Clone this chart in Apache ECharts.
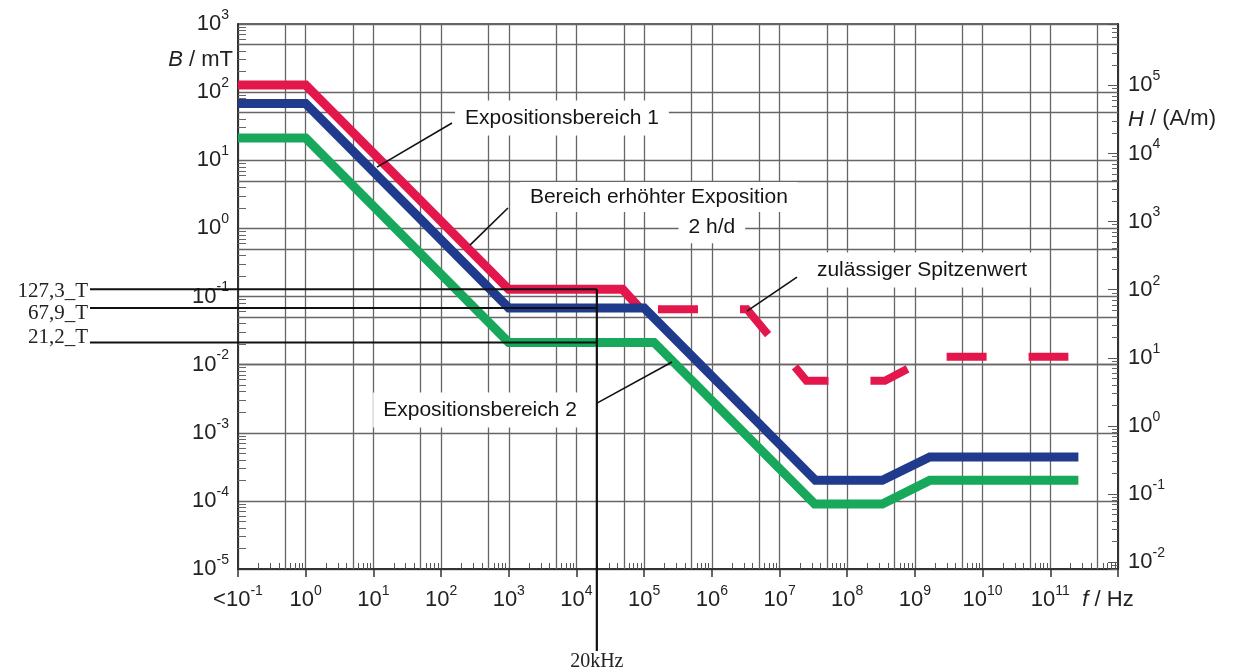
<!DOCTYPE html>
<html><head><meta charset="utf-8">
<script src="https://cdn.jsdelivr.net/npm/echarts@6/dist/echarts.min.js"></script>
<style>html,body{margin:0;padding:0;background:#fff}#c{width:1237px;height:672px}</style>
</head><body><div id="c"></div>
<script>
// ---------- data (f in Hz, B in mT) ----------
const xRange = [0.1, 1e12];
const yRange = [1e-5, 1e3];
const redF   = [0.1, 1, 1000, 4.8e4, 8.6e4];
const redB   = [127.3, 127.3, 0.1273, 0.1273, 0.0679];
const blueF  = [0.1, 1, 1000, 1e5, 3.4e7, 3.3e8, 1.66e9, 2.6e11];
const blueB  = [67.9, 67.9, 0.0679, 0.0679, 2.0e-4, 2.0e-4, 4.4e-4, 4.4e-4];
const greenF = [0.1, 1, 1000, 1.4e5, 3.3e7, 3.3e8, 1.66e9, 2.6e11];
const greenB = [21.2, 21.2, 0.0212, 0.0212, 9.0e-5, 9.0e-5, 2.0e-4, 2.0e-4];
const peakF  = [1.6e5, 3.3e6, 2.5e7, 3.6e8, 1.7e9, 1.85e11];
const peakB  = [0.065, 0.065, 5.8e-3, 5.8e-3, 0.013, 0.013];
const refLevels = [0.1273, 0.0679, 0.0212];
const refLabels = ['127,3_T', '67,9_T', '21,2_T'];
const refFreq = 2e4;
const refFreqLabel = '20kHz';
const muMilli = 4 * Math.PI * 1e-7 * 1e3; // mT per (A/m)
const annoTexts = ['Expositionsbereich 1', 'Bereich erhöhter Exposition', '2 h/d', 'Expositionsbereich 2', 'zulässiger Spitzenwert'];
const annoAt   = [[6100, 41.7], [1460, 2.88], [1.0e6, 1.04], [1.43e4, 2.15e-3], [2.54e7, 0.244]];
const leaderFrom = [[11.3, 7.94], [267, 0.569], [2.58e5, 0.0109], [3.3e6, 0.0611]];
const leaderTo   = [[145, 35.2], [973, 1.99], [2.01e4, 2.72e-3], [1.81e7, 0.193]];

// ---------- styling ----------
const FONT = '"Liberation Sans", Arial, sans-serif';
const SERIF = '"Liberation Serif", "Times New Roman", serif';
const GRIDC = '#666';
const richSup = {
  s: {fontSize: 14, fontFamily: FONT, color: '#222', padding: [0, 0, 18, 0]},
  fi: {fontSize: 22, fontFamily: FONT, color: '#222', fontStyle: 'italic', padding: [5, 0, 5, 0]},
  fr: {fontSize: 22, fontFamily: FONT, color: '#222', padding: [5, 20, 5, 0]}
};
const ex = v => Math.round(Math.log10(v));
const isPow = v => Math.abs(Math.log10(v) - ex(v)) < 0.01;
const xFmt = v => { const e = ex(v); if (e === -1) return '<10{s|-1}'; if (e === 12) return '{fi|f}{fr| / Hz}'; return '10{s|' + e + '}'; };
const yFmt = v => isPow(v) ? '10{s|' + ex(v) + '}' : '';
const zip = (a, b) => a.map((v, i) => [v, b[i]]);

// extra 5x grid lines (1 and 5 per decade like the original paper grid)
const grid5 = [];
for (let e = -1; e < 12; e++) grid5.push({xAxis: 5 * Math.pow(10, e)});
for (let e = -5; e < 3; e++) grid5.push({yAxis: 5 * Math.pow(10, e)});

const baseLog = (min, max) => ({
  type: 'log', logBase: 10, min: min, max: max, splitNumber: Math.round(Math.log10(max / min)), interval: 1
});

const chart = echarts.init(document.getElementById('c'), null, {renderer: 'canvas'});
const hAxis = Object.assign(baseLog(yRange[0] / muMilli, yRange[1] / muMilli), {
  position: 'right', splitNumber: 8,
  axisLine: {show: true, lineStyle: {color: '#333', width: 2}},
  axisTick: {show: true, inside: true, length: 10, lineStyle: {color: '#555', width: 1}},
  minorTick: {show: true, splitNumber: 9, length: 6, lineStyle: {color: '#666', width: 1}},
  axisLabel: {formatter: yFmt, rich: richSup, margin: 10, fontSize: 22, fontFamily: FONT, color: '#222', showMinLabel: true, showMaxLabel: true, interval: 0, hideOverlap: false},
  splitLine: {show: false}
});
delete hAxis.interval;
const option = {
  animation: false,
  backgroundColor: '#fff',
  grid: {left: 238, right: 119, top: 24, bottom: 103, show: true, borderColor: '#333', borderWidth: 1.5, containLabel: false},
  xAxis: [
    Object.assign(baseLog(xRange[0], xRange[1]), {
      position: 'bottom',
      axisLine: {lineStyle: {color: '#333', width: 2}},
      axisTick: {show: false, inside: true},
      minorTick: {show: true, splitNumber: 9, length: 6, lineStyle: {color: '#555', width: 1}},
      axisLabel: {formatter: xFmt, rich: richSup, margin: 15, fontSize: 22, fontFamily: FONT, color: '#222', showMinLabel: true, showMaxLabel: true, interval: 0},
      splitLine: {show: true, lineStyle: {color: GRIDC, width: 1.3}}
    }),
    Object.assign(baseLog(xRange[0], xRange[1]), {
      position: 'bottom', offset: 0,
      axisLine: {show: false}, axisLabel: {show: false}, splitLine: {show: false},
      axisTick: {show: true, inside: false, length: 8, lineStyle: {color: '#333', width: 1.5}}
    })
  ],
  yAxis: [
    Object.assign(baseLog(yRange[0], yRange[1]), {
      position: 'left',
      axisLine: {show: true, lineStyle: {color: '#333', width: 2}},
      axisTick: {show: false, inside: true},
      minorTick: {show: true, splitNumber: 9, length: 8, lineStyle: {color: '#666', width: 1}},
      axisLabel: {formatter: yFmt, rich: richSup, margin: 9, fontSize: 22, fontFamily: FONT, color: '#222', showMinLabel: true, showMaxLabel: true, interval: 0},
      splitLine: {show: true, lineStyle: {color: GRIDC, width: 1.3}}
    }),
    hAxis
  ],
  series: [
    {type: 'line', name: 'grid', data: [], xAxisIndex: 0, yAxisIndex: 0, silent: true,
     markLine: {z: 1, silent: true, symbol: ['none', 'none'], label: {show: false}, animation: false,
       lineStyle: {color: GRIDC, width: 1.3, type: 'solid'}, emphasis: {disabled: true}, data: grid5}},
    {type: 'line', name: 'zulässiger Spitzenwert', data: zip(peakF, peakB), showSymbol: false, symbol: 'none', z: 3,
     lineStyle: {color: '#e3174c', width: 8, type: [40, 42], cap: 'butt', join: 'miter'}},
    {type: 'line', name: 'Bereich erhöhter Exposition', data: zip(redF, redB), showSymbol: false, symbol: 'none', z: 3,
     lineStyle: {color: '#e3174c', width: 9, cap: 'butt', join: 'miter'}},
    {type: 'line', name: 'Expositionsbereich 1', data: zip(blueF, blueB), showSymbol: false, symbol: 'none', z: 3,
     lineStyle: {color: '#203b8e', width: 9, cap: 'butt', join: 'miter'}},
    {type: 'line', name: 'Expositionsbereich 2', data: zip(greenF, greenB), showSymbol: false, symbol: 'none', z: 3,
     lineStyle: {color: '#17a85b', width: 9, cap: 'butt', join: 'miter'}}
  ]
};
chart.setOption(option);

// ---------- annotations positioned through the chart's own scales ----------
const P = p => chart.convertToPixel({xAxisIndex: 0, yAxisIndex: 0}, p);
const g = [];
const lineEl = (x1, y1, x2, y2, w) => ({type: 'line', z: 30, silent: true, shape: {x1, y1, x2, y2}, style: {stroke: '#111', lineWidth: w || 1.8}});
const xRef = P([refFreq, 1])[0];
const refOffsets = [2, 6, -5];
refLevels.forEach((lv, i) => {
  const y = P([1, lv])[1];
  g.push(lineEl(90, y, xRef, y, 2));
  g.push({type: 'text', z: 30, silent: true, style: {text: refLabels[i], x: 88, y: y + refOffsets[i], align: 'right', verticalAlign: 'middle', font: '21px ' + SERIF, fill: '#222'}});
});
const yTopRef = P([1, refLevels[0]])[1];
g.push(lineEl(xRef, yTopRef, xRef, 651, 2.2));
g.push({type: 'text', z: 30, silent: true, style: {text: refFreqLabel, x: xRef, y: 652, align: 'center', verticalAlign: 'top', font: '20px ' + SERIF, fill: '#222'}});

const aligns = ['center', 'left', 'center', 'right', 'left'];
const pads = [[7, 10, 7, 10], [6, 10, 3, 10], [3, 10, 8, 10], [7, 10, 7, 10], [7, 10, 7, 10]];
annoTexts.forEach((t, i) => {
  const p = P(annoAt[i]);
  g.push({type: 'text', z: 25, silent: true, style: {text: t, x: p[0], y: p[1], align: aligns[i], verticalAlign: 'middle',
    font: '21px ' + FONT, fill: '#151515', backgroundColor: '#fff', padding: pads[i]}});
});
leaderFrom.forEach((a, i) => {
  const p1 = P(a), p2 = P(leaderTo[i]);
  g.push(lineEl(p1[0], p1[1], p2[0], p2[1], 1.6));
});

// axis titles
const gridLeft = P([xRange[0], 1])[0];
const gridRight = P([xRange[1], 1])[0];
const yBName = P([1, 300])[1];
const yHName = chart.convertToPixel({yAxisIndex: 1}, Math.pow(10, 4.5));
g.push({type: 'text', z: 30, silent: true, style: {text: '{i|B} / mT', x: gridLeft - 5, y: yBName, align: 'right', verticalAlign: 'middle',
  font: '22px ' + FONT, fill: '#222', rich: {i: {fontStyle: 'italic', fontSize: 22, fontFamily: FONT, fill: '#222'}}}});
g.push({type: 'text', z: 30, silent: true, style: {text: '{i|H} / (A/m)', x: gridRight + 10, y: yHName, align: 'left', verticalAlign: 'middle',
  font: '22px ' + FONT, fill: '#222', rich: {i: {fontStyle: 'italic', fontSize: 22, fontFamily: FONT, fill: '#222'}}}});

chart.setOption({graphic: g});
</script>
</body></html>
